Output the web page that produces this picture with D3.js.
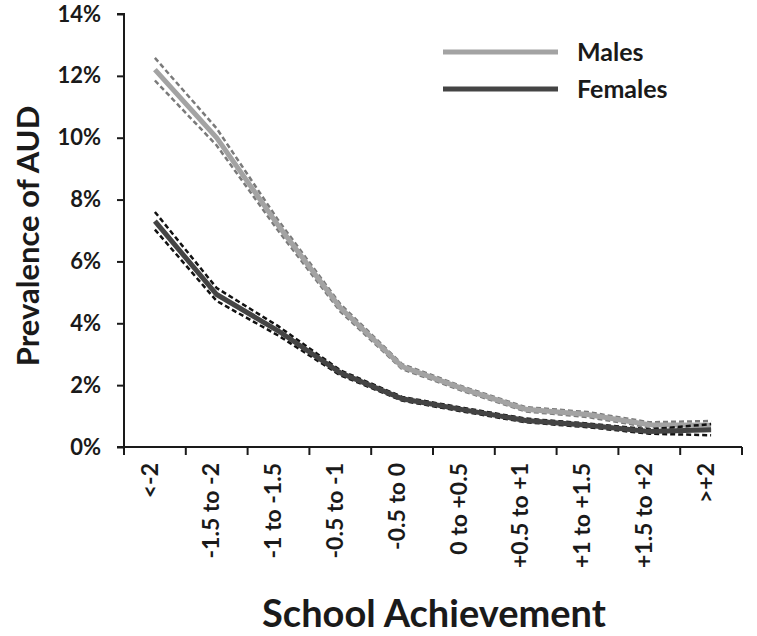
<!DOCTYPE html>
<html>
<head>
<meta charset="utf-8">
<script src="https://cdn.jsdelivr.net/npm/d3@7"></script>
<style>
  body { margin: 0; background: #fff; }
  svg text { font-family: Lato, "Open Sans", sans-serif; font-weight: bold; fill: #1a1a1a; }
</style>
</head>
<body>
<div class="container"></div>
<script>
// values in percent
const categories = ['<-2', '-1.5 to -2', '-1 to -1.5', '-0.5 to -1', '-0.5 to 0',
  '0 to +0.5', '+0.5 to +1', '+1 to +1.5', '+1.5 to +2', '>+2'];
const males     = [12.2, 10.0, 7.15, 4.5, 2.6, 1.87, 1.22, 1.05, 0.72, 0.7];
const malesLo   = [11.85, 9.75, 6.98, 4.38, 2.52, 1.8, 1.15, 0.97, 0.64, 0.56];
const malesHi   = [12.58, 10.3, 7.32, 4.62, 2.68, 1.94, 1.29, 1.13, 0.8, 0.84];
const females   = [7.3, 4.93, 3.75, 2.4, 1.56, 1.2, 0.86, 0.7, 0.5, 0.56];
const femalesLo = [7.03, 4.72, 3.6, 2.32, 1.5, 1.14, 0.8, 0.64, 0.43, 0.38];
const femalesHi = [7.6, 5.14, 3.9, 2.48, 1.62, 1.26, 0.92, 0.76, 0.57, 0.74];
const yTicks = [0, 2, 4, 6, 8, 10, 12, 14];

const width = 757, height = 636;
const plotLeft = 124, plotRight = 742, plotTop = 14, plotBottom = 447;

const svg = d3.select('.container').append('svg')
  .attr('width', width).attr('height', height);

const x = d3.scaleBand().domain(categories).range([plotLeft, plotRight]);
const y = d3.scaleLinear().domain([0, 14]).range([plotBottom, plotTop]);

// y axis
const yAxis = svg.append('g')
  .attr('transform', `translate(${plotLeft},0)`)
  .call(d3.axisLeft(y).tickValues(yTicks).tickSize(7).tickPadding(16).tickFormat(d => d + '%'));
yAxis.selectAll('path, line').attr('stroke', '#1a1a1a').attr('stroke-width', 2);
yAxis.select('.domain').attr('d', `M-7,${plotTop}H0V${plotBottom}`);
yAxis.selectAll('text').attr('font-size', 22).attr('fill', '#1a1a1a');

// x axis, ticks between categories
const xAxis = svg.append('g')
  .attr('transform', `translate(0,${plotBottom})`);
xAxis.append('line')
  .attr('x1', plotLeft - 7).attr('x2', plotRight)
  .attr('stroke', '#1a1a1a').attr('stroke-width', 2);
const bounds = categories.map(c => x(c)).concat([x(categories[categories.length - 1]) + x.bandwidth()]);
xAxis.selectAll('.xt').data(bounds).enter().append('line')
  .attr('class', 'xt')
  .attr('x1', d => d).attr('x2', d => d)
  .attr('y1', 0).attr('y2', 8)
  .attr('stroke', '#1a1a1a').attr('stroke-width', 2);
xAxis.selectAll('.xl').data(categories).enter().append('text')
  .attr('class', 'xl')
  .attr('transform', d => `translate(${x(d) + x.bandwidth() / 2},16) rotate(-90)`)
  .attr('text-anchor', 'end')
  .attr('dy', '0.12em')
  .attr('font-size', 23)
  .text(d => d);

// axis titles
svg.append('text')
  .attr('transform', `translate(39,236) rotate(-90)`)
  .attr('text-anchor', 'middle')
  .attr('font-size', 31)
  .text('Prevalence of AUD');
svg.append('text')
  .attr('x', 434).attr('y', 627)
  .attr('text-anchor', 'middle')
  .attr('font-size', 38)
  .text('School Achievement');

const line = d3.line()
  .x((d, i) => x(categories[i]) + x.bandwidth() / 2)
  .y(d => y(d));

const series = [
  { name: 'Males', mid: males, lo: malesLo, hi: malesHi, color: '#a3a3a3', ci: '#7a7a7a' },
  { name: 'Females', mid: females, lo: femalesLo, hi: femalesHi, color: '#444444', ci: '#111111' }
];

series.forEach(s => {
  [s.lo, s.hi].forEach(b => {
    svg.append('path').datum(b)
      .attr('d', line)
      .attr('fill', 'none')
      .attr('stroke', s.ci)
      .attr('stroke-width', 2.5)
      .attr('stroke-dasharray', '5,3');
  });
  svg.append('path').datum(s.mid)
    .attr('d', line)
    .attr('fill', 'none')
    .attr('stroke', s.color)
    .attr('stroke-width', 5);
});

// legend
const legend = svg.append('g');
series.forEach((s, i) => {
  legend.append('line')
    .attr('x1', 443).attr('x2', 558)
    .attr('y1', 52 + i * 37).attr('y2', 52 + i * 37)
    .attr('stroke', s.color).attr('stroke-width', 5);
  legend.append('text')
    .attr('x', 577).attr('y', 52 + i * 37)
    .attr('dy', '0.35em')
    .attr('font-size', 25)
    .text(s.name);
});
</script>
</body>
</html>
